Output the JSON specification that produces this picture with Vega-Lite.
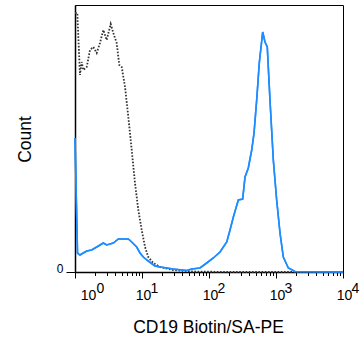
{
  "$schema": "https://vega.github.io/schema/vega-lite/v6.json",
  "width": 268,
  "height": 267,
  "autosize": {"type": "none"},
  "padding": {"left": 75, "top": 5, "right": 17, "bottom": 67},
  "background": "white",
  "config": {
    "view": {"stroke": "#000", "strokeWidth": 1},
    "font": "Liberation Sans",
    "axis": {"labelFont": "Liberation Sans", "titleFont": "Liberation Sans", "labelColor": "#000", "titleColor": "#000", "tickColor": "#000", "domainColor": "#000", "grid": false}
  },
  "datasets": {
    "control": [
      {"x": 1.0, "y": 259}, {"x": 1.082, "y": 259}, {"x": 1.187, "y": 197}, {"x": 1.259, "y": 210},
      {"x": 1.33, "y": 202}, {"x": 1.495, "y": 205}, {"x": 1.675, "y": 222}, {"x": 1.876, "y": 225},
      {"x": 2.108, "y": 219}, {"x": 2.36, "y": 229}, {"x": 2.645, "y": 242}, {"x": 2.973, "y": 232},
      {"x": 3.41, "y": 248}, {"x": 3.73, "y": 239}, {"x": 4.19, "y": 229}, {"x": 4.58, "y": 207},
      {"x": 4.98, "y": 205}, {"x": 5.58, "y": 185}, {"x": 6.25, "y": 155}, {"x": 7.02, "y": 122},
      {"x": 7.86, "y": 89}, {"x": 8.81, "y": 62}, {"x": 9.9, "y": 42}, {"x": 11.1, "y": 25},
      {"x": 12.4, "y": 15}, {"x": 14.7, "y": 9}, {"x": 18.6, "y": 5}, {"x": 29.0, "y": 2},
      {"x": 57.7, "y": 0.5}, {"x": 206, "y": 0}, {"x": 10000, "y": 0}
    ],
    "stained": [
      {"x": 1.0, "y": 134}, {"x": 1.09, "y": 19}, {"x": 1.187, "y": 17}, {"x": 1.33, "y": 19},
      {"x": 1.495, "y": 21}, {"x": 1.776, "y": 22}, {"x": 2.108, "y": 25}, {"x": 2.645, "y": 29},
      {"x": 2.973, "y": 27}, {"x": 3.73, "y": 29}, {"x": 4.43, "y": 33}, {"x": 6.25, "y": 33},
      {"x": 7.02, "y": 30}, {"x": 8.33, "y": 25}, {"x": 9.34, "y": 19}, {"x": 10.46, "y": 15},
      {"x": 12.4, "y": 11}, {"x": 15.6, "y": 6}, {"x": 18.6, "y": 5}, {"x": 29.3, "y": 3},
      {"x": 46.5, "y": 1.5}, {"x": 55.2, "y": 3}, {"x": 73.4, "y": 4}, {"x": 92.4, "y": 9},
      {"x": 116, "y": 14}, {"x": 146, "y": 20}, {"x": 184, "y": 30}, {"x": 206, "y": 42},
      {"x": 231, "y": 55}, {"x": 274, "y": 72}, {"x": 318, "y": 73}, {"x": 345, "y": 95},
      {"x": 386, "y": 104}, {"x": 434, "y": 122}, {"x": 470, "y": 139}, {"x": 515, "y": 172},
      {"x": 563, "y": 209}, {"x": 633, "y": 240}, {"x": 685, "y": 230}, {"x": 741, "y": 225},
      {"x": 813, "y": 172}, {"x": 912, "y": 112}, {"x": 1023, "y": 72}, {"x": 1148, "y": 39},
      {"x": 1286, "y": 15}, {"x": 1527, "y": 4}, {"x": 1923, "y": 0.5}, {"x": 10000, "y": 0}
    ]
  },
  "resolve": {"axis": {"x": "independent", "y": "independent"}},
  "layer": [
    {
      "data": {"name": "control"},
      "mark": {"type": "line", "color": "#333", "strokeWidth": 1.8, "strokeDash": [1.6, 1.6], "interpolate": "linear"},
      "encoding": {
        "x": {"field": "x", "type": "quantitative",
          "scale": {"type": "log", "domain": [1, 10000], "nice": false},
          "axis": {"orient": "bottom", "values": [1, 10, 100, 1000, 10000], "labelExpr": "'10'",
            "labelFontSize": 14, "labelBaseline": "alphabetic", "labelPadding": 21, "tickSize": 6, "tickWidth": 1,
            "domainWidth": 1.5, "labelFlush": false, "labelOverlap": false, "labelBound": false,
            "labelOffset": {"condition": {"test": "datum.value <= 1", "value": 13}, "value": 1},
            "title": "CD19 Biotin/SA-PE", "titleFontSize": 17.5, "titleFontWeight": "normal",
            "titleBaseline": "alphabetic", "titleAlign": "center", "titleX": 133, "titleY": 60.5}},
        "y": {"field": "y", "type": "quantitative",
          "scale": {"domain": [0, 267], "nice": false},
          "axis": {"values": [0], "labelFontSize": 12, "labelBaseline": "alphabetic", "labelPadding": 3,
            "tickSize": 9, "domainWidth": 1.5,
            "title": "Count", "titleFontSize": 17.5, "titleFontWeight": "normal", "titleAngle": -90,
            "titleBaseline": "alphabetic", "titleAlign": "center", "titleX": -44.5, "titleY": 134}}
      }
    },
    {
      "data": {"name": "stained"},
      "mark": {"type": "line", "color": "#1e8cff", "strokeWidth": 1.6},
      "encoding": {
        "x": {"field": "x", "type": "quantitative",
          "scale": {"type": "log", "domain": [1, 10000], "nice": false},
          "axis": {"orient": "bottom", "values": [2,3,4,5,6,7,8,9,20,30,40,50,60,70,80,90,200,300,400,500,600,700,800,900,2000,3000,4000,5000,6000,7000,8000,9000],
            "labels": false, "domain": false, "tickSize": 3.5, "tickWidth": 1, "title": null}},
        "y": {"field": "y", "type": "quantitative", "axis": null}
      }
    },
    {
      "data": {"name": "stained"},
      "mark": {"type": "line", "color": "#1e8cff", "strokeWidth": 1.6},
      "encoding": {
        "x": {"field": "x", "type": "quantitative",
          "scale": {"type": "log", "domain": [1, 10000], "nice": false},
          "axis": {"orient": "bottom", "values": [1, 10, 100, 1000, 10000],
            "labelExpr": "'' + round(log(datum.value) / LN10)",
            "labelFontSize": 14, "labelBaseline": "alphabetic", "labelPadding": 20.5, "ticks": false, "tickSize": 0,
            "domain": false, "labelFlush": false, "labelOverlap": false, "labelBound": false,
            "labelOffset": {"condition": {"test": "datum.value <= 1", "value": 25}, "value": 12},
            "title": null}},
        "y": {"field": "y", "type": "quantitative", "axis": null}
      }
    }
  ]
}
